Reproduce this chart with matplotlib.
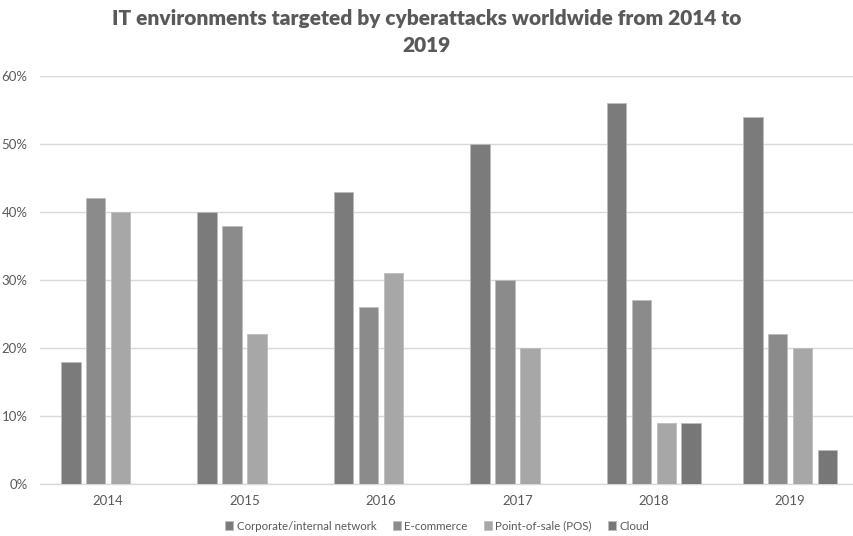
import matplotlib.pyplot as plt
import numpy as np

plt.rcParams['font.family'] = ['Lato', 'DejaVu Sans']

# Data
years = ['2014', '2015', '2016', '2017', '2018', '2019']
series_names = ['Corporate/internal network', 'E-commerce', 'Point-of-sale (POS)', 'Cloud']
corporate = [18, 40, 43, 50, 56, 54]
ecommerce = [42, 38, 26, 30, 27, 22]
pos = [40, 22, 31, 20, 9, 20]
cloud = [np.nan, np.nan, np.nan, np.nan, 9, 5]

colors = ['#7b7b7b', '#8b8b8b', '#a7a7a7', '#777777']
TEXT_GRAY = '#595959'
GRID_GRAY = '#d9d9d9'

fig = plt.figure(figsize=(8.54, 5.36), dpi=100, facecolor='white')
ax = fig.add_axes([40 / 854, 1 - 484 / 536, 814 / 854, 408 / 536])

x = np.arange(len(years))
pitch = 0.183
width = 0.143
for i, (name, vals, c) in enumerate(zip(series_names, [corporate, ecommerce, pos, cloud], colors)):
    ax.bar(x + (i - 1.5) * pitch, np.array(vals, dtype=float) / 100, width,
           color=c, edgecolor='#bdbdbd', linewidth=0.6, label=name, zorder=3)

ax.set_ylim(0, 0.6)
ax.set_xlim(-0.5, -0.5 + 814 / 136.4)
ax.set_yticks(np.arange(0, 0.61, 0.1))
ax.set_yticklabels([f'{int(round(v * 100))}%' for v in np.arange(0, 0.61, 0.1)])
ax.set_xticks(x)
ax.set_xticklabels(years)
ax.tick_params(axis='both', length=0, colors=TEXT_GRAY, labelsize=9.5)
ax.tick_params(axis='x', pad=8)
ax.tick_params(axis='y', pad=9)
ax.grid(axis='y', color=GRID_GRAY, linewidth=1, zorder=0)
for side in ['top', 'right', 'left']:
    ax.spines[side].set_visible(False)
ax.spines['bottom'].set_color(GRID_GRAY)
ax.spines['bottom'].set_linewidth(1)

fig.text(0.5, 1 - 32 / 536, 'IT environments targeted by cyberattacks worldwide from 2014 to\n2019',
         ha='center', va='center', fontsize=15, fontweight='heavy', color=TEXT_GRAY, linespacing=1.55)

fig.legend(loc='center', bbox_to_anchor=(0.512, 1 - 526 / 536), ncol=4, frameon=False,
           fontsize=8.3, handlelength=0.7, handleheight=0.7, handletextpad=0.3,
           columnspacing=1.4, labelcolor=TEXT_GRAY)

plt.savefig('out.png', dpi=100)
